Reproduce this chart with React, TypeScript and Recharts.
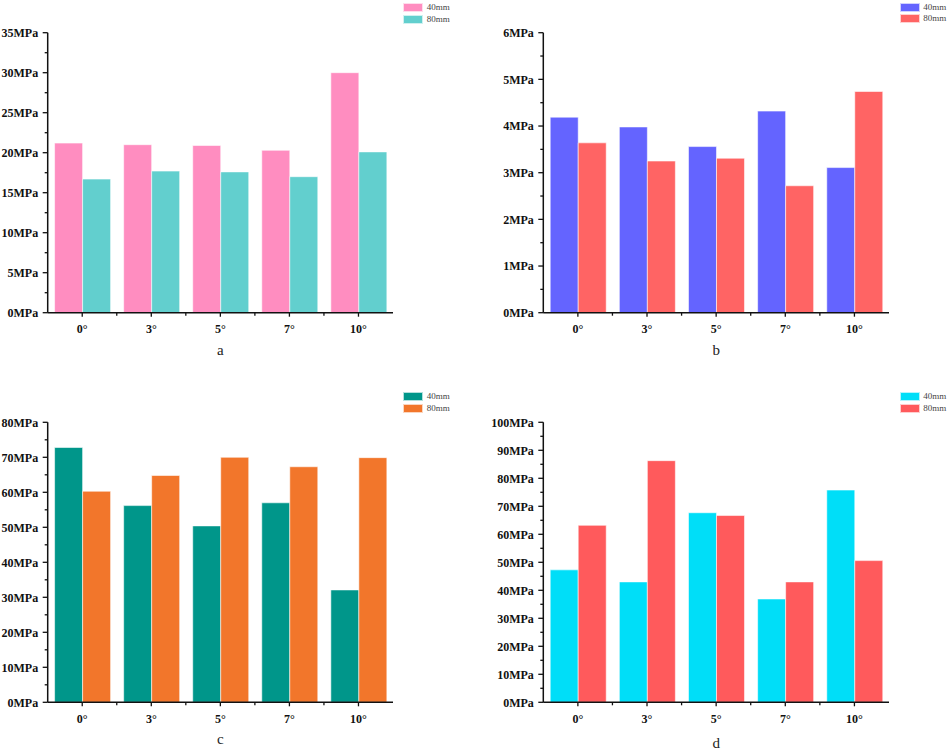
import React from 'react';
import { BarChart, Bar, XAxis, YAxis, Legend, Label } from 'recharts';

const categories = ['0°', '3°', '5°', '7°', '10°'];

const a40 = [21.2, 21.0, 20.9, 20.3, 30.0];
const a80 = [16.7, 17.7, 17.6, 17.0, 20.1];
const b40 = [4.19, 3.98, 3.56, 4.32, 3.11];
const b80 = [3.64, 3.25, 3.31, 2.72, 4.74];
const c40 = [72.8, 56.2, 50.4, 57.0, 32.1];
const c80 = [60.3, 64.8, 70.0, 67.3, 69.9];
const d40 = [47.3, 43.0, 67.7, 36.9, 75.8];
const d80 = [63.2, 86.3, 66.7, 43.0, 50.6];

const aTicks = [0, 5, 10, 15, 20, 25, 30, 35];
const bTicks = [0, 1, 2, 3, 4, 5, 6];
const cTicks = [0, 10, 20, 30, 40, 50, 60, 70, 80];
const dTicks = [0, 10, 20, 30, 40, 50, 60, 70, 80, 90, 100];

const seriesNames = ['40mm', '80mm'];
const unit = 'MPa';

const FONT = '"Liberation Serif", "Times New Roman", serif';

function withMinors(majors: number[]) {
  const out: number[] = [];
  majors.forEach((v, i) => {
    out.push(v);
    if (i < majors.length - 1) out.push((v + majors[i + 1]) / 2);
  });
  return out;
}

function buildRows(s40: number[], s80: number[]) {
  return categories.map((c, i) => ({ cat: c, v40: s40[i], v80: s80[i] }));
}

const tickTextStyle: React.CSSProperties = { fontFamily: FONT, fontWeight: 700, fontSize: 12 };

const YTick = (props: any) => {
  const { x, y, payload, majors } = props;
  const major = majors.includes(payload.value);
  return (
    <g>
      <line x1={x} x2={x - (major ? 5 : 3)} y1={y} y2={y} stroke="#111" strokeWidth={1.3} />
      {major && (
        <text x={x - 9.5} y={y} dy="0.35em" textAnchor="end" style={tickTextStyle} fill="#111">
          {payload.value + unit}
        </text>
      )}
    </g>
  );
};

const XTick = (props: any) => {
  const { x, y, payload, index, band } = props;
  return (
    <g>
      <line x1={x} x2={x} y1={y} y2={y + 4} stroke="#111" strokeWidth={1.3} />
      {index < categories.length - 1 && (
        <line x1={x + band / 2} x2={x + band / 2} y1={y} y2={y + 3} stroke="#111" strokeWidth={1.3} />
      )}
      <text x={x} y={y + 16} dy="0.35em" textAnchor="middle" style={tickTextStyle} fill="#111">
        {payload.value}
      </text>
    </g>
  );
};

const LegendContent = (props: any) => {
  const { payload } = props;
  return (
    <div style={{ fontFamily: FONT }}>
      {(payload || []).map((p: any, i: number) => (
        <div key={i} style={{ display: 'flex', alignItems: 'center', height: 11.5 }}>
          <div style={{ width: 20, height: 9.3, background: p.color, boxSizing: 'border-box', border: '0.5px solid rgba(255,255,255,0.7)' }} />
          <span style={{ marginLeft: 3.5, fontSize: 9, color: '#444', lineHeight: '9px' }}>{p.value}</span>
        </div>
      ))}
    </div>
  );
};

type PanelProps = {
  left: number;
  top: number;
  width: number;
  height: number;
  plotLeft: number;
  plotTop: number;
  plotRight: number;
  plotBottom: number;
  s40: number[];
  s80: number[];
  majors: number[];
  colors: [string, string];
  letter: string;
  letterOffset: number;
  legendLeft: number;
  legendTop: number;
};

const Panel = (p: PanelProps) => {
  const data = buildRows(p.s40, p.s80);
  const plotW = p.plotRight - p.plotLeft;
  const band = plotW / categories.length;
  const max = p.majors[p.majors.length - 1];
  return (
    <div style={{ position: 'absolute', left: p.left, top: p.top, width: p.width, height: p.height }}>
      <BarChart
        width={p.width}
        height={p.height}
        data={data}
        margin={{ top: p.plotTop, left: 0, right: p.width - p.plotRight, bottom: 0 }}
        barCategoryGap="10%"
        barGap={0}
      >
        <XAxis
          dataKey="cat"
          height={p.height - p.plotBottom}
          axisLine={{ stroke: '#111', strokeWidth: 1.5 }}
          tickLine={false}
          tickSize={0}
          tickMargin={0}
          interval={0}
          tick={(tp: any) => <XTick {...tp} band={band} />}
        >
          <Label value={p.letter} position="insideBottom" offset={p.letterOffset} style={{ fontFamily: FONT, fontSize: 15, fill: '#222' }} />
        </XAxis>
        <YAxis
          width={p.plotLeft}
          domain={[0, max]}
          ticks={withMinors(p.majors)}
          interval={0}
          axisLine={{ stroke: '#111', strokeWidth: 1.5 }}
          tickLine={false}
          tickSize={0}
          tickMargin={0}
          tick={(tp: any) => <YTick {...tp} majors={p.majors} />}
        />
        <Legend
          layout="vertical"
          verticalAlign="middle"
          align="center"
          content={LegendContent}
          wrapperStyle={{ left: p.legendLeft, top: p.legendTop, width: 60, height: 24 }}
        />
        <Bar dataKey="v40" name={seriesNames[0]} fill={p.colors[0]} stroke="rgba(255,255,255,0.55)" strokeWidth={1} isAnimationActive={false} />
        <Bar dataKey="v80" name={seriesNames[1]} fill={p.colors[1]} stroke="rgba(255,255,255,0.55)" strokeWidth={1} isAnimationActive={false} />
      </BarChart>
    </div>
  );
};

export default function App() {
  return (
    <div style={{ position: 'absolute', left: 0, top: 0, width: 948, height: 751, background: '#fff', overflow: 'hidden' }}>
      <Panel
        left={0} top={0} width={474} height={370}
        plotLeft={47.7} plotTop={32.7} plotRight={393} plotBottom={312.7}
        s40={a40} s80={a80} majors={aTicks} colors={['#FF8DC0', '#62CFCE']}
        letter="a" letterOffset={15} legendLeft={403.3} legendTop={2}
      />
      <Panel
        left={474} top={0} width={474} height={370}
        plotLeft={69.3} plotTop={32.7} plotRight={415} plotBottom={312.7}
        s40={b40} s80={b80} majors={bTicks} colors={['#6464FF', '#FF6464']}
        letter="b" letterOffset={15} legendLeft={425.7} legendTop={1.5}
      />
      <Panel
        left={0} top={370} width={474} height={381}
        plotLeft={47.7} plotTop={52.3} plotRight={393} plotBottom={332.3}
        s40={c40} s80={c80} majors={cTicks} colors={['#00968A', '#F2762B']}
        letter="c" letterOffset={7} legendLeft={403.3} legendTop={21}
      />
      <Panel
        left={474} top={370} width={474} height={381}
        plotLeft={69.3} plotTop={52.3} plotRight={415} plotBottom={332.3}
        s40={d40} s80={d80} majors={dTicks} colors={['#00DEF8', '#FF5A5C']}
        letter="d" letterOffset={3} legendLeft={425.7} legendTop={21}
      />
    </div>
  );
}
